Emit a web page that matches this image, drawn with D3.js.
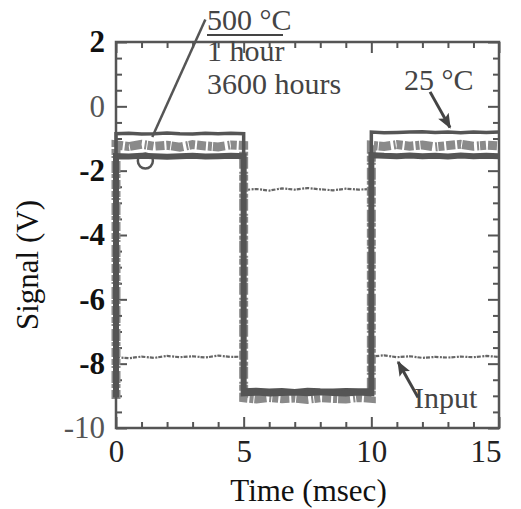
<!DOCTYPE html>
<html>
<head>
<meta charset="utf-8">
<style>
  body { margin: 0; background: #fff; }
  svg { font-family: "Liberation Serif", "Times New Roman", serif; }
  .frame { fill: none; stroke: #555; stroke-width: 2.5; }
  .axis line { stroke: #555; stroke-width: 2; }
  .axis path { display: none; }
  .axis text { font-family: "Liberation Serif", serif; font-size: 31px; fill: #222; }
  .trace { fill: none; stroke-linejoin: miter; }
  .note { font-size: 30px; fill: #444; }
  .title { font-size: 31px; fill: #111; }
</style>
</head>
<body>
<svg width="521" height="509"></svg>
<script src="https://cdn.jsdelivr.net/npm/d3@7"></script>
<script>

// time grid (msec); repeated values mark the switching edges
var tms = [0,0,0.5,1,1.5,2,2.5,3,3.5,4,4.5,5,5,5.5,6,6.5,7,7.5,8,8.5,9,9.5,10,10,10.5,11,11.5,12,12.5,13,13.5,14,14.5,15];

var input = [-7.80,-7.80,-7.83,-7.78,-7.82,-7.76,-7.80,-7.77,-7.81,-7.75,-7.79,-7.78,
             -2.60,-2.57,-2.62,-2.55,-2.59,-2.54,-2.58,-2.61,-2.56,-2.59,-2.57,
             -7.78,-7.74,-7.80,-7.77,-7.82,-7.79,-7.81,-7.78,-7.80,-7.76,-7.79];

var hour1 = [-9.10,-1.20,-1.25,-1.18,-1.24,-1.21,-1.27,-1.19,-1.23,-1.26,-1.20,-1.22,
             -9.06,-9.10,-9.05,-9.09,-9.07,-9.11,-9.06,-9.08,-9.10,-9.05,-9.08,
             -1.21,-1.25,-1.19,-1.24,-1.20,-1.26,-1.22,-1.18,-1.24,-1.21,-1.23];

var room25 = [-8.90,-0.85,-0.84,-0.86,-0.85,-0.83,-0.85,-0.86,-0.84,-0.85,-0.84,-0.85,
              -8.82,-8.80,-8.83,-8.81,-8.84,-8.80,-8.82,-8.83,-8.81,-8.82,-8.82,
              -0.80,-0.82,-0.81,-0.80,-0.79,-0.81,-0.80,-0.82,-0.80,-0.81,-0.80];

var hours3600 = [-9.05,-1.55,-1.56,-1.54,-1.55,-1.57,-1.55,-1.54,-1.56,-1.55,-1.54,-1.55,
                 -8.92,-8.90,-8.93,-8.91,-8.90,-8.92,-8.89,-8.91,-8.93,-8.90,-8.92,
                 -1.52,-1.54,-1.55,-1.53,-1.55,-1.54,-1.56,-1.53,-1.55,-1.54,-1.55];

var xTicks = [0,1,2,3,4,5,6,7,8,9,10,11,12,13,14,15];
var xLabels = [0,5,10,15];
var yTicks = [-10,-9.5,-9,-8.5,-8,-7.5,-7,-6.5,-6,-5.5,-5,-4.5,-4,-3.5,-3,-2.5,-2,-1.5,-1,-0.5,0,0.5,1,1.5,2];
var yLabels = [2,0,-2,-4,-6,-8,-10];

var svg = d3.select("svg"),
    margin = {top: 42, right: 22, bottom: 81, left: 116},
    width = +svg.attr("width") - margin.left - margin.right,
    height = +svg.attr("height") - margin.top - margin.bottom;

var x = d3.scaleLinear().domain([0, 15]).range([margin.left, margin.left + width]);
var y = d3.scaleLinear().domain([-10, 2]).range([margin.top + height, margin.top]);

var defs = svg.append("defs");
defs.append("marker")
    .attr("id", "head")
    .attr("viewBox", "0 0 10 10")
    .attr("refX", 9).attr("refY", 5)
    .attr("markerWidth", 5).attr("markerHeight", 5)
    .attr("markerUnits", "strokeWidth")
    .attr("orient", "auto")
  .append("path")
    .attr("d", "M0,1 L10,5 L0,9 L2,5 z")
    .attr("fill", "#444");

// ticks point inward on all four sides, longer ones at labelled values
function isMajorX(d) { return xLabels.indexOf(d) >= 0; }
function isMajorY(d) { return yLabels.indexOf(d) >= 0; }

var gb = svg.append("g").attr("class", "axis")
    .attr("transform", "translate(0," + (margin.top + height) + ")")
    .call(d3.axisBottom(x).tickValues(xTicks).tickSize(-6).tickPadding(12)
      .tickFormat(function(d) { return isMajorX(d) ? d : ""; }));
gb.selectAll(".tick line").filter(isMajorX).attr("y2", -11);
gb.selectAll(".tick text").attr("dy", "0.71em")
  .filter(function(d) { return d === 15; }).attr("text-anchor", "end").attr("dx", 2);

var gt = svg.append("g").attr("class", "axis")
    .attr("transform", "translate(0," + margin.top + ")")
    .call(d3.axisTop(x).tickValues(xTicks).tickSize(-6).tickFormat(""));
gt.selectAll(".tick line").filter(isMajorX).attr("y2", 11);

var gl = svg.append("g").attr("class", "axis")
    .attr("transform", "translate(" + margin.left + ",0)")
    .call(d3.axisLeft(y).tickValues(yTicks).tickSize(-6).tickPadding(11)
      .tickFormat(function(d) { return isMajorY(d) ? d : ""; }));
gl.selectAll(".tick line").filter(isMajorY).attr("x2", 11);
gl.selectAll(".tick text")
  .style("font-weight", function(d) { return (d === 0 || d === -10) ? "normal" : "bold"; })
  .style("fill", function(d) { return (d === 0 || d === -10) ? "#555" : "#111"; });

var gr = svg.append("g").attr("class", "axis")
    .attr("transform", "translate(" + (margin.left + width) + ",0)")
    .call(d3.axisRight(y).tickValues(yTicks).tickSize(-6).tickFormat(""));
gr.selectAll(".tick line").filter(isMajorY).attr("x2", -11);

// traces
var line = d3.line()
    .x(function(d) { return x(d[0]); })
    .y(function(d) { return y(d[1]); });

function pairs(vals) { return tms.map(function(t, i) { return [t, vals[i]]; }); }

svg.append("path").attr("class", "trace")
    .attr("d", line(pairs(input)))
    .attr("stroke", "#666").attr("stroke-width", 2.2)
    .attr("stroke-dasharray", "4,1.5,2,1");

svg.append("path").attr("class", "trace")
    .attr("d", line(pairs(hour1)))
    .attr("stroke", "#8a8a8a").attr("stroke-width", 9)
    .attr("stroke-dasharray", "9,2,4,1,12,3,2,1,6,2");

svg.append("path").attr("class", "trace")
    .attr("d", line(pairs(room25)))
    .attr("stroke", "#555").attr("stroke-width", 3.5);

svg.append("path").attr("class", "trace")
    .attr("d", line(pairs(hours3600)))
    .attr("stroke", "#555").attr("stroke-width", 6);

svg.append("rect").attr("class", "frame")
    .attr("x", margin.left).attr("y", margin.top)
    .attr("width", width).attr("height", height);

// annotations
svg.append("circle")
    .attr("cx", x(1.15)).attr("cy", y(-1.70)).attr("r", 7.5)
    .attr("fill", "none").attr("stroke", "#555").attr("stroke-width", 2.5);

svg.append("line")
    .attr("x1", x(3.5)).attr("y1", y(2.7))
    .attr("x2", x(1.42)).attr("y2", y(-0.95))
    .attr("stroke", "#555").attr("stroke-width", 2.5);

svg.append("text").attr("class", "note").attr("x", 207).attr("y", 30).text("500 °C");
svg.append("line").attr("x1", 207).attr("x2", 283).attr("y1", 35).attr("y2", 35)
    .attr("stroke", "#444").attr("stroke-width", 2);
svg.append("text").attr("class", "note").attr("x", 207).attr("y", 61).text("1 hour");
svg.append("text").attr("class", "note").attr("x", 207).attr("y", 94).text("3600 hours");

svg.append("text").attr("class", "note").attr("x", 404).attr("y", 90).text("25 °C");
svg.append("line")
    .attr("x1", x(12.3)).attr("y1", y(0.45))
    .attr("x2", x(13.08)).attr("y2", y(-0.66))
    .attr("stroke", "#444").attr("stroke-width", 3)
    .attr("marker-end", "url(#head)");

svg.append("text").attr("class", "note").attr("x", 414).attr("y", 408).text("Input");
svg.append("line")
    .attr("x1", x(11.83)).attr("y1", y(-9.05))
    .attr("x2", x(11.05)).attr("y2", y(-7.95))
    .attr("stroke", "#444").attr("stroke-width", 3)
    .attr("marker-end", "url(#head)");

// axis titles
svg.append("text").attr("class", "title")
    .attr("x", margin.left + width / 2 + 1).attr("y", 501)
    .attr("text-anchor", "middle")
    .text("Time (msec)");

svg.append("text").attr("class", "title")
    .attr("transform", "translate(38," + (margin.top + height / 2 + 30) + ") rotate(-90)")
    .attr("text-anchor", "middle")
    .text("Signal (V)");

</script>
</body>
</html>
